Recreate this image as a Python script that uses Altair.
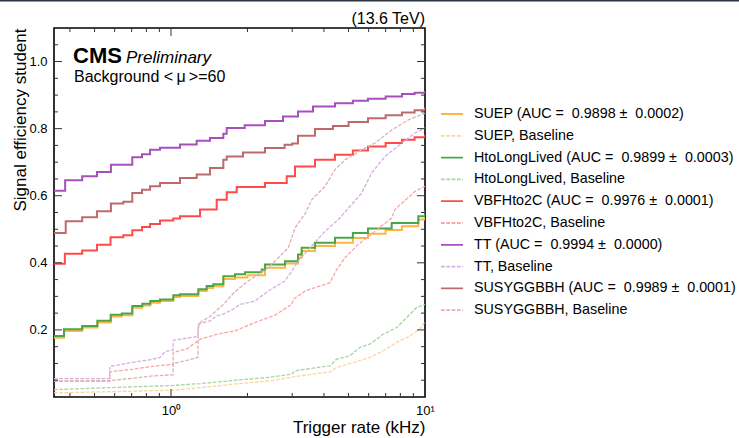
import altair as alt
import pandas as pd

# ---------------- data ----------------
labels = [
    "SUEP (AUC =\u00a0 0.9898 \u00b1\u00a0 0.0002)",
    "SUEP, Baseline",
    "HtoLongLived (AUC =\u00a0 0.9899 \u00b1\u00a0 0.0003)",
    "HtoLongLived, Baseline",
    "VBFHto2C (AUC =\u00a0 0.9976 \u00b1\u00a0 0.0001)",
    "VBFHto2C, Baseline",
    "TT (AUC =\u00a0 0.9994 \u00b1\u00a0 0.0000)",
    "TT, Baseline",
    "SUSYGGBBH (AUC =\u00a0 0.9989 \u00b1\u00a0 0.0001)",
    "SUSYGGBBH, Baseline",
]
colors = ["#ffb53f", "#ffd49a", "#4aa64a", "#a6d4a6", "#ff4a4a", "#ffa3a3",
          "#a64fbd", "#d6aee2", "#bd6a6a", "#e0b0b0"]

suep_x = [0.346, 0.379, 0.447, 0.513, 0.579, 0.640, 0.704, 0.771, 0.829, 0.905, 1.021, 1.085, 1.281, 1.382,
          1.467, 1.607, 1.786, 2.0, 2.345, 2.811, 3.162, 3.27, 3.69, 4.423, 5.2, 5.965, 7.0, 8.12, 9.41, 10]
suep_y = [0.177, 0.197, 0.207, 0.222, 0.240, 0.244, 0.266, 0.273, 0.281, 0.286, 0.298, 0.301, 0.316, 0.325,
          0.330, 0.352, 0.356, 0.363, 0.385, 0.398, 0.415, 0.435, 0.450, 0.460, 0.474, 0.487, 0.498, 0.509, 0.529, 0.542]

hto_x = [0.346, 0.379, 0.447, 0.513, 0.579, 0.640, 0.704, 0.771, 0.829, 0.905, 1.021, 1.085, 1.281, 1.382,
         1.467, 1.607, 1.786, 1.956, 2.276, 2.345, 2.811, 3.162, 3.27, 3.69, 4.423, 5.2, 5.965, 7.393, 9.41, 10]
hto_y = [0.182, 0.202, 0.212, 0.227, 0.245, 0.249, 0.271, 0.278, 0.286, 0.291, 0.303, 0.306, 0.321, 0.331,
         0.336, 0.360, 0.366, 0.372, 0.380, 0.395, 0.405, 0.425, 0.445, 0.460, 0.475, 0.489, 0.502, 0.519, 0.539, 0.556]

vbf_x = [0.346, 0.382, 0.447, 0.511, 0.578, 0.649, 0.704, 0.769, 0.827, 0.905, 1.021, 1.085, 1.301, 1.513,
         1.657, 1.814, 2.345, 2.855, 3.078, 3.69, 4.42, 5.2, 5.965, 7.0, 8.12, 9.1, 10]
vbf_y = [0.397, 0.427, 0.437, 0.454, 0.476, 0.482, 0.497, 0.507, 0.516, 0.526, 0.532, 0.539, 0.559, 0.588,
         0.610, 0.626, 0.638, 0.658, 0.687, 0.707, 0.722, 0.735, 0.747, 0.757, 0.767, 0.774, 0.782]

tt_x = [0.346, 0.383, 0.447, 0.511, 0.580, 0.704, 0.769, 0.827, 0.905, 1.085, 1.262, 1.424, 1.607, 1.657,
        1.95, 2.345, 2.76, 3.162, 3.623, 4.423, 5.2, 5.965, 7.0, 8.12, 9.1, 10]
tt_y = [0.615, 0.646, 0.658, 0.671, 0.692, 0.715, 0.724, 0.737, 0.743, 0.753, 0.764, 0.772, 0.785, 0.802,
        0.810, 0.823, 0.836, 0.851, 0.866, 0.876, 0.883, 0.889, 0.896, 0.903, 0.907, 0.912]

susy_x = [0.346, 0.385, 0.447, 0.511, 0.580, 0.649, 0.704, 0.769, 0.827, 0.905, 1.085, 1.262, 1.424, 1.607,
          1.657, 1.92, 2.345, 2.8, 3.0, 3.162, 3.69, 4.34, 5.0, 5.965, 7.0, 8.12, 9.1, 10]
susy_y = [0.489, 0.524, 0.536, 0.554, 0.577, 0.582, 0.608, 0.618, 0.628, 0.638, 0.653, 0.663, 0.683, 0.707,
          0.717, 0.729, 0.742, 0.752, 0.756, 0.779, 0.799, 0.808, 0.820, 0.831, 0.840, 0.848, 0.855, 0.863]

suep_base_x = [0.346, 0.575, 1.0, 1.3, 1.8, 2.453, 2.988, 3.221, 4.227, 4.49, 6.075, 6.85, 7.735, 8.73, 9.5, 10]
suep_base_y = [0.012, 0.016, 0.020, 0.028, 0.039, 0.048, 0.059, 0.063, 0.075, 0.088, 0.118, 0.138, 0.163,
               0.182, 0.202, 0.224]

hto_base_x = [0.346, 0.575, 1.0, 1.3, 1.8, 2.453, 2.988, 3.078, 4.227, 4.49, 5.067, 5.548, 6.075, 6.85,
              7.735, 8.73, 9.275, 10]
hto_base_y = [0.022, 0.028, 0.034, 0.040, 0.050, 0.059, 0.068, 0.078, 0.093, 0.113, 0.123, 0.148, 0.158,
              0.187, 0.207, 0.247, 0.267, 0.276]

vbf_base_x = [0.346, 0.573, 0.575, 0.710, 0.878, 1.018, 1.021, 1.153, 1.301, 1.513, 1.786, 2.141, 2.567,
              2.988, 3.03, 3.37, 4.227, 4.49, 4.842, 5.463, 6.356, 7.393, 7.617, 9.135, 10]
vbf_base_y = [0.047, 0.047, 0.075, 0.083, 0.093, 0.097, 0.133, 0.143, 0.172, 0.187, 0.197, 0.222, 0.244,
              0.276, 0.291, 0.316, 0.341, 0.380, 0.415, 0.455, 0.494, 0.534, 0.559, 0.613, 0.628]

tt_base_x = [0.346, 0.573, 0.575, 0.70, 0.827, 0.905, 0.95, 1.018, 1.021, 1.262, 1.275, 1.281, 1.424, 1.513,
             1.607, 1.759, 1.869, 2.141, 2.416, 2.811, 2.988, 3.162, 3.580, 4.040, 4.6, 5.634, 6.169, 6.960,
             8.095, 9.135, 10]
tt_base_y = [0.055, 0.055, 0.091, 0.103, 0.111, 0.118, 0.136, 0.140, 0.169, 0.180, 0.182, 0.217, 0.227, 0.242,
             0.247, 0.262, 0.276, 0.286, 0.316, 0.346, 0.375, 0.405, 0.450, 0.494, 0.532, 0.608, 0.668, 0.717,
             0.757, 0.787, 0.802]

susy_base_x = [0.346, 0.575, 0.710, 0.852, 1.018, 1.021, 1.153, 1.275, 1.281, 1.30, 1.424, 1.607, 1.786,
               2.015, 2.416, 2.645, 2.897, 3.078, 3.370, 3.580, 4.040, 4.423, 4.842, 5.634, 6.356, 7.393, 8.597, 10]
susy_base_y = [0.047, 0.049, 0.056, 0.063, 0.066, 0.100, 0.109, 0.118, 0.205, 0.222, 0.240, 0.276, 0.314,
               0.346, 0.385, 0.415, 0.445, 0.504, 0.546, 0.588, 0.628, 0.678, 0.707, 0.737, 0.757, 0.796, 0.826, 0.846]

y_major_ticks = [0.2, 0.4, 0.6, 0.8, 1.0]
y_minor_ticks = [0.05, 0.10, 0.15, 0.25, 0.30, 0.35, 0.45, 0.50, 0.55, 0.65, 0.70, 0.75, 0.85, 0.90, 0.95, 1.05]
x_major_ticks = [1, 10]
x_minor_ticks = [0.4, 0.5, 0.6, 0.7, 0.8, 0.9, 2, 3, 4, 5, 6, 7, 8, 9]

# ---------------- tables ----------------
def series(xs, ys, label):
    return pd.DataFrame({"x": xs, "y": ys, "label": label})

solid_df = pd.concat([
    series(suep_x, suep_y, labels[0]),
    series(hto_x, hto_y, labels[2]),
    series(vbf_x, vbf_y, labels[4]),
    series(tt_x, tt_y, labels[6]),
    series(susy_x, susy_y, labels[8]),
], ignore_index=True)
base_df = pd.concat([
    series(suep_base_x, suep_base_y, labels[1]),
    series(hto_base_x, hto_base_y, labels[3]),
    series(vbf_base_x, vbf_base_y, labels[5]),
    series(tt_base_x, tt_base_y, labels[7]),
    series(susy_base_x, susy_base_y, labels[9]),
], ignore_index=True)

W, H = 371, 369
FONT = "Liberation Sans"

xscale = alt.Scale(type="log", domain=[0.3462, 10], nice=False)
yscale = alt.Scale(domain=[0, 1.1], nice=False, zero=False)

legend = alt.Legend(
    title=None, orient="none", legendX=386, legendY=74,
    symbolType="stroke", symbolSize=480, symbolStrokeWidth=1.8,
    labelFontSize=14.3, labelFont=FONT, labelColor="black", labelOffset=10,
    labelLimit=400, rowPadding=1.8, padding=0,
)
color = alt.Color("label:N", scale=alt.Scale(domain=labels, range=colors), legend=legend)
dash = alt.StrokeDash(
    "label:N",
    scale=alt.Scale(domain=labels, range=[[1, 0], [3.7, 1.6]] * 5),
    legend=legend,
)

xaxis = alt.Axis(
    values=x_major_ticks, labelExpr="datum.value == 1 ? '10\u2070' : '10\u00b9'",
    ticks=False, domain=False, grid=False, labelFlush=False,
    labelFontSize=13, labelFont=FONT, labelColor="black", labelPadding=7,
    title="Trigger rate (kHz)", titleFont=FONT, titleFontSize=17, titleFontWeight="normal",
    titleColor="black", titleAnchor="end", titleAlign="right", titleBaseline="alphabetic",
    titleX=W, titleY=35,
)
yaxis = alt.Axis(
    values=y_major_ticks, format=".1f",
    ticks=False, domain=False, grid=False,
    labelFontSize=13, labelFont=FONT, labelColor="black", labelPadding=7,
    title="Signal efficiency student", titleFont=FONT, titleFontSize=17, titleFontWeight="normal",
    titleColor="black", titleAngle=270, titleAlign="right", titleBaseline="alphabetic",
    titleX=-29, titleY=0,
)

X = lambda f: alt.X(f, scale=xscale, axis=xaxis)
Y = lambda f: alt.Y(f, scale=yscale, axis=yaxis)

solid = alt.Chart(solid_df).mark_line(interpolate="step-after", strokeWidth=2, clip=True).encode(
    x=X("x:Q"), y=Y("y:Q"), color=color, strokeDash=dash,
)
base = alt.Chart(base_df).mark_line(strokeWidth=1.3, clip=True).encode(
    x=X("x:Q"), y=Y("y:Q"), color=color, strokeDash=dash,
)

TICK = "#333333"

def yticks(vals, length):
    df = pd.DataFrame({"y": vals})
    left = alt.Chart(df).mark_rule(color=TICK, strokeWidth=1).encode(
        y=Y("y:Q"), x=alt.value(0), x2=alt.value(length))
    right = alt.Chart(df).mark_rule(color=TICK, strokeWidth=1).encode(
        y=Y("y:Q"), x=alt.value(W - length), x2=alt.value(W))
    return [left, right]

def xticks(vals, length):
    df = pd.DataFrame({"x": vals})
    bottom = alt.Chart(df).mark_rule(color=TICK, strokeWidth=1).encode(
        x=X("x:Q"), y=alt.value(H - length), y2=alt.value(H))
    top = alt.Chart(df).mark_rule(color=TICK, strokeWidth=1).encode(
        x=X("x:Q"), y=alt.value(0), y2=alt.value(length))
    return [bottom, top]

def label(text, x, y, size, weight="normal", style="normal", align="left"):
    return alt.Chart(pd.DataFrame({"t": [text]})).mark_text(
        font=FONT, fontSize=size, fontWeight=weight, fontStyle=style, align=align,
        baseline="alphabetic", color="black",
    ).encode(text="t:N", x=alt.value(x), y=alt.value(y))

# thin dark frame line along the very top of the page
band = alt.Chart(pd.DataFrame({"t": [""]})).mark_rect(color="#2b3441").encode(
    x=alt.value(-54), x2=alt.value(739 - 54), y=alt.value(-28), y2=alt.value(-26.5),
    tooltip="t:N")

layers = [solid, base] + yticks(y_major_ticks, 8) + yticks(y_minor_ticks, 4) \
    + xticks(x_major_ticks, 8) + xticks(x_minor_ticks, 4) + [
    label("CMS", 19, 35, 22, weight="bold"),
    label("Preliminary", 72, 35, 17, style="italic"),
    label("Background <\u2009\u03bc\u2009>=60", 20, 54, 16),
    label("(13.6 TeV)", W, -4.5, 16, align="right"),
    band,
]

chart = alt.layer(*layers).properties(
    width=W, height=H,
    padding={"left": 54, "top": 28, "right": 739 - 54 - W, "bottom": 438 - 28 - H},
    autosize=alt.AutoSizeParams(type="none"),
    background="white",
).configure(font=FONT).configure_view(stroke="black", strokeWidth=1.6)

chart.save("out.html", embed_options={"renderer": "svg", "actions": False})
